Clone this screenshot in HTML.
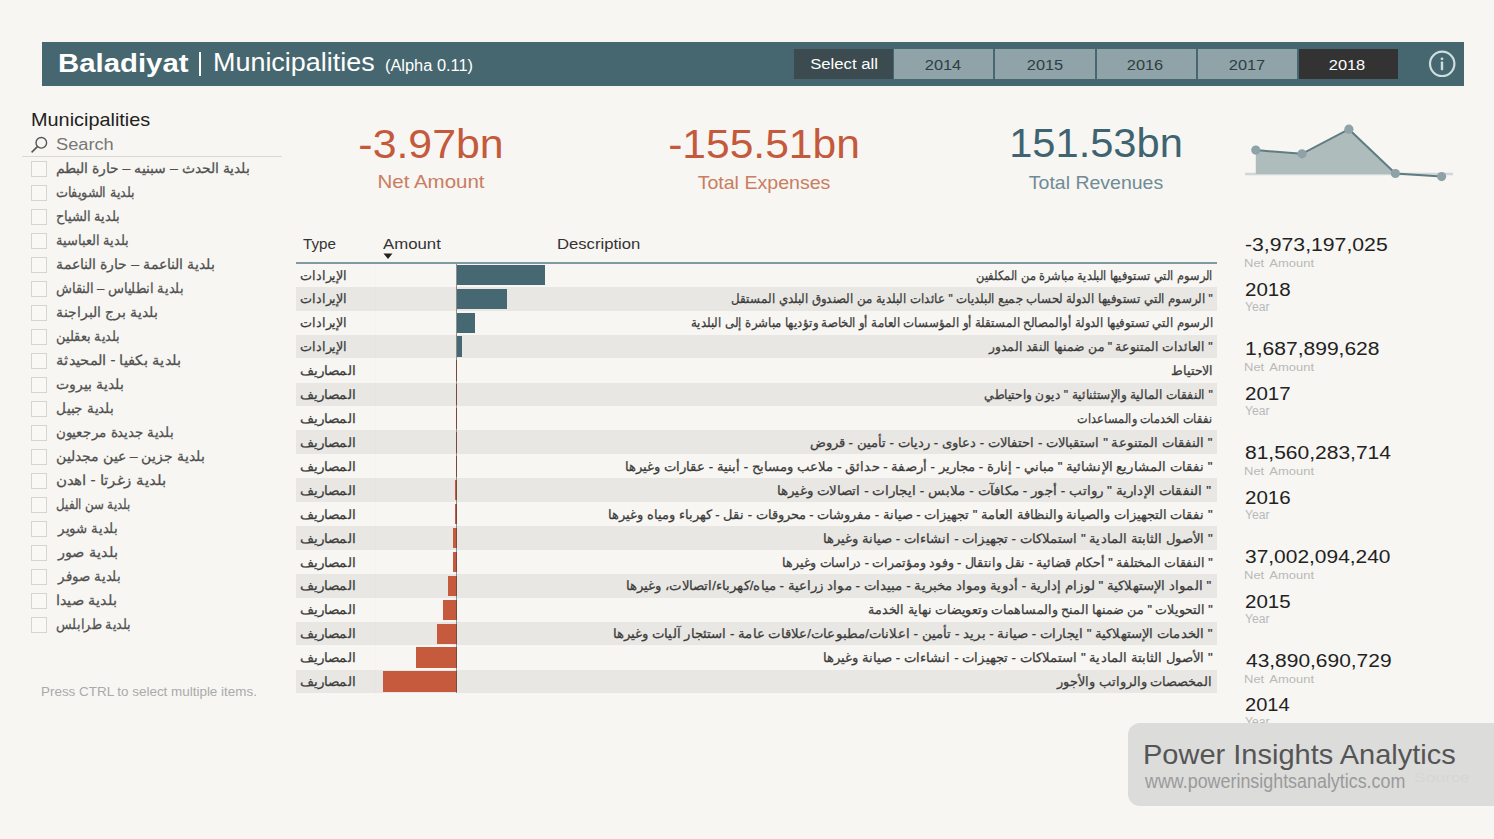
<!DOCTYPE html>
<html><head><meta charset="utf-8"><style>
html,body{margin:0;padding:0;}
body{width:1494px;height:839px;background:#f7f6f2;position:relative;overflow:hidden;font-family:"Liberation Sans",sans-serif;}
.t{position:absolute;white-space:nowrap;display:inline-block;}
.r{position:absolute;}
.cb{border:1.5px solid #d5d5d2;box-sizing:border-box;background:#f9f8f5;}
</style></head><body>
<div class="r" style="left:42px;top:42px;width:1421.5px;height:44px;background:#46676f;"></div>
<div class="t" id="h_bal" style="left:57.800000000000004px;top:49.62px;font-size:26.2px;line-height:26.2px;color:#ffffff;font-weight:bold;font-family:'Liberation Sans', sans-serif;transform:scaleX(1.1205);transform-origin:left 0;">Baladiyat</div>
<div class="r" style="left:198.6px;top:52px;width:2.7px;height:24px;background:#ffffff;"></div>
<div class="t" id="h_mun" style="left:213.0px;top:49.28px;font-size:26.6px;line-height:26.6px;color:#ffffff;font-weight:normal;font-family:'Liberation Sans', sans-serif;transform:scaleX(1.0125);transform-origin:left 0;">Municipalities</div>
<div class="t" id="h_alp" style="left:385.0px;top:58.16px;font-size:16px;line-height:16px;color:#ffffff;font-weight:normal;font-family:'Liberation Sans', sans-serif;transform:scaleX(1.0234);transform-origin:left 0;">(Alpha 0.11)</div>
<div class="r" style="left:794px;top:49px;width:99px;height:29.5px;background:#3b4b50;"></div>
<div class="t" id="b_sel" style="left:843.5px;top:56.38px;font-size:15.5px;line-height:15.5px;color:#ffffff;font-weight:normal;font-family:'Liberation Sans', sans-serif;transform:translateX(-50%) scaleX(1.0767);transform-origin:center 0;">Select all</div>
<div class="r" style="left:894px;top:49px;width:99.3px;height:29.5px;background:#8fa3a9;"></div>
<div class="t" id="b_2014" style="left:942.9000000000002px;top:56.88px;font-size:15.5px;line-height:15.5px;color:#2f3e42;font-weight:normal;font-family:'Liberation Sans', sans-serif;transform:translateX(-50%) scaleX(1.0563);transform-origin:center 0;">2014</div>
<div class="r" style="left:995.3px;top:49px;width:99.3px;height:29.5px;background:#8fa3a9;"></div>
<div class="t" id="b_2015" style="left:1044.5999999999988px;top:56.88px;font-size:15.5px;line-height:15.5px;color:#2f3e42;font-weight:normal;font-family:'Liberation Sans', sans-serif;transform:translateX(-50%) scaleX(1.0563);transform-origin:center 0;">2015</div>
<div class="r" style="left:1096.5px;top:49px;width:99.3px;height:29.5px;background:#8fa3a9;"></div>
<div class="t" id="b_2016" style="left:1145.3999999999992px;top:56.88px;font-size:15.5px;line-height:15.5px;color:#2f3e42;font-weight:normal;font-family:'Liberation Sans', sans-serif;transform:translateX(-50%) scaleX(1.0563);transform-origin:center 0;">2016</div>
<div class="r" style="left:1197.8px;top:49px;width:99.3px;height:29.5px;background:#8fa3a9;"></div>
<div class="t" id="b_2017" style="left:1247.0999999999988px;top:56.88px;font-size:15.5px;line-height:15.5px;color:#2f3e42;font-weight:normal;font-family:'Liberation Sans', sans-serif;transform:translateX(-50%) scaleX(1.0563);transform-origin:center 0;">2017</div>
<div class="r" style="left:1298.5px;top:49px;width:99.3px;height:29.5px;background:#333333;"></div>
<div class="t" id="b_2018" style="left:1347.3999999999992px;top:56.88px;font-size:15.5px;line-height:15.5px;color:#ffffff;font-weight:normal;font-family:'Liberation Sans', sans-serif;transform:translateX(-50%) scaleX(1.0563);transform-origin:center 0;">2018</div>
<svg class="r" style="left:1427px;top:49px;width:30px;height:30px" viewBox="0 0 30 30"><circle cx="15.2" cy="14.8" r="12.2" fill="none" stroke="#cfdde0" stroke-width="2.2"/><circle cx="15" cy="9.8" r="1.4" fill="#cfdde0"/><rect x="13.8" y="12.4" width="2.4" height="8.8" rx="0.8" fill="#cfdde0"/></svg>
<div class="t" id="k1" style="left:431.0px;top:123.59px;font-size:41px;line-height:41px;color:#c45a3b;font-weight:normal;font-family:'Liberation Sans', sans-serif;transform:translateX(-50%) scaleX(1.0445);transform-origin:center 0;">-3.97bn</div>
<div class="t" id="k1l" style="left:430.5px;top:171.72px;font-size:19px;line-height:19px;color:#c97d61;font-weight:normal;font-family:'Liberation Sans', sans-serif;transform:translateX(-50%) scaleX(1.0793);transform-origin:center 0;">Net Amount</div>
<div class="t" id="k2" style="left:764.0px;top:123.89px;font-size:41px;line-height:41px;color:#c45a3b;font-weight:normal;font-family:'Liberation Sans', sans-serif;transform:translateX(-50%) scaleX(1.0383);transform-origin:center 0;">-155.51bn</div>
<div class="t" id="k2l" style="left:764.0px;top:173.42px;font-size:19px;line-height:19px;color:#c97d61;font-weight:normal;font-family:'Liberation Sans', sans-serif;transform:translateX(-50%) scaleX(1.0301);transform-origin:center 0;">Total Expenses</div>
<div class="t" id="k3" style="left:1096.0px;top:123.19px;font-size:41px;line-height:41px;color:#3f6471;font-weight:normal;font-family:'Liberation Sans', sans-serif;transform:translateX(-50%) scaleX(1.0155);transform-origin:center 0;">151.53bn</div>
<div class="t" id="k3l" style="left:1096.0px;top:172.52px;font-size:19px;line-height:19px;color:#6f8b95;font-weight:normal;font-family:'Liberation Sans', sans-serif;transform:translateX(-50%) scaleX(1.0260);transform-origin:center 0;">Total Revenues</div>
<svg class="r" style="left:0;top:0;width:1494px;height:839px" viewBox="0 0 1494 839"><line x1="1245" y1="174" x2="1453" y2="174" stroke="#cfd8d8" stroke-width="2.5"/><polygon points="1255.8,174 1255.8,150.1 1302,153.8 1348.9,129.2 1395.4,173.5 1395.4,174" fill="#aebcbc"/><polyline points="1255.8,150.1 1302,153.8 1348.9,129.2 1395.4,173.5 1441.6,176.6" fill="none" stroke="#5f7c81" stroke-width="2"/><circle cx="1255.8" cy="150.1" r="4.6" fill="#8ea2a7"/><circle cx="1302" cy="153.8" r="4.6" fill="#8ea2a7"/><circle cx="1348.9" cy="129.2" r="4.6" fill="#8ea2a7"/><circle cx="1395.4" cy="173.5" r="4.6" fill="#8ea2a7"/><circle cx="1441.6" cy="176.6" r="4.6" fill="#8ea2a7"/></svg>
<div class="t" id="m_title" style="left:30.5px;top:111.34px;font-size:18.5px;line-height:18.5px;color:#222222;font-weight:normal;font-family:'Liberation Sans', sans-serif;transform:scaleX(1.0737);transform-origin:left 0;">Municipalities</div>
<svg class="r" style="left:28px;top:134px;width:24px;height:22px" viewBox="0 0 24 22"><circle cx="13.3" cy="8.8" r="5.3" fill="none" stroke="#555" stroke-width="1.4"/><line x1="9.4" y1="12.7" x2="3.6" y2="18.3" stroke="#555" stroke-width="1.6"/></svg>
<div class="t" id="m_search" style="left:56.0px;top:136.76px;font-size:16px;line-height:16px;color:#777777;font-weight:normal;font-family:'Liberation Sans', sans-serif;transform:scaleX(1.1387);transform-origin:left 0;">Search</div>
<div class="r" style="left:22px;top:156px;width:260px;height:1.3px;background:#d9d8d3;"></div>
<div class="r cb" style="left:31px;top:161.3px;width:16.3px;height:16px"></div>
<div class="t" id="mu0" dir="rtl" style="left:56.0px;top:161.35px;font-size:14px;line-height:14px;color:#505050;font-weight:normal;font-family:'Liberation Sans', sans-serif;transform:scaleX(0.9976);transform-origin:left 0;-webkit-text-stroke:0.25px #505050;">بلدية الحدث – سبنيه – حارة البطم</div>
<div class="r cb" style="left:31px;top:185.3px;width:16.3px;height:16px"></div>
<div class="t" id="mu1" dir="rtl" style="left:56.0px;top:185.35px;font-size:14px;line-height:14px;color:#505050;font-weight:normal;font-family:'Liberation Sans', sans-serif;transform:scaleX(0.9087);transform-origin:left 0;-webkit-text-stroke:0.25px #505050;">بلدية الشويفات</div>
<div class="r cb" style="left:31px;top:209.3px;width:16.3px;height:16px"></div>
<div class="t" id="mu2" dir="rtl" style="left:56.0px;top:209.35px;font-size:14px;line-height:14px;color:#505050;font-weight:normal;font-family:'Liberation Sans', sans-serif;transform:scaleX(0.9285);transform-origin:left 0;-webkit-text-stroke:0.25px #505050;">بلدية الشياح</div>
<div class="r cb" style="left:31px;top:233.3px;width:16.3px;height:16px"></div>
<div class="t" id="mu3" dir="rtl" style="left:56.0px;top:233.35px;font-size:14px;line-height:14px;color:#505050;font-weight:normal;font-family:'Liberation Sans', sans-serif;transform:scaleX(0.9248);transform-origin:left 0;-webkit-text-stroke:0.25px #505050;">بلدية العباسية</div>
<div class="r cb" style="left:31px;top:257.3px;width:16.3px;height:16px"></div>
<div class="t" id="mu4" dir="rtl" style="left:56.0px;top:257.35px;font-size:14px;line-height:14px;color:#505050;font-weight:normal;font-family:'Liberation Sans', sans-serif;transform:scaleX(1.0065);transform-origin:left 0;-webkit-text-stroke:0.25px #505050;">بلدية الناعمة – حارة الناعمة</div>
<div class="r cb" style="left:31px;top:281.3px;width:16.3px;height:16px"></div>
<div class="t" id="mu5" dir="rtl" style="left:56.0px;top:281.35px;font-size:14px;line-height:14px;color:#505050;font-weight:normal;font-family:'Liberation Sans', sans-serif;transform:scaleX(0.9345);transform-origin:left 0;-webkit-text-stroke:0.25px #505050;">بلدية انطلياس – النقاش</div>
<div class="r cb" style="left:31px;top:305.3px;width:16.3px;height:16px"></div>
<div class="t" id="mu6" dir="rtl" style="left:56.0px;top:305.35px;font-size:14px;line-height:14px;color:#505050;font-weight:normal;font-family:'Liberation Sans', sans-serif;transform:scaleX(1.0004);transform-origin:left 0;-webkit-text-stroke:0.25px #505050;">بلدية برج البراجنة</div>
<div class="r cb" style="left:31px;top:329.3px;width:16.3px;height:16px"></div>
<div class="t" id="mu7" dir="rtl" style="left:56.0px;top:329.35px;font-size:14px;line-height:14px;color:#505050;font-weight:normal;font-family:'Liberation Sans', sans-serif;transform:scaleX(0.9152);transform-origin:left 0;-webkit-text-stroke:0.25px #505050;">بلدية بعقلين</div>
<div class="r cb" style="left:31px;top:353.3px;width:16.3px;height:16px"></div>
<div class="t" id="mu8" dir="rtl" style="left:56.0px;top:353.35px;font-size:14px;line-height:14px;color:#505050;font-weight:normal;font-family:'Liberation Sans', sans-serif;transform:scaleX(1.0503);transform-origin:left 0;-webkit-text-stroke:0.25px #505050;">بلدية بكفيا - المحيدثة</div>
<div class="r cb" style="left:31px;top:377.3px;width:16.3px;height:16px"></div>
<div class="t" id="mu9" dir="rtl" style="left:56.0px;top:377.35px;font-size:14px;line-height:14px;color:#505050;font-weight:normal;font-family:'Liberation Sans', sans-serif;transform:scaleX(1.0009);transform-origin:left 0;-webkit-text-stroke:0.25px #505050;">بلدية بيروت</div>
<div class="r cb" style="left:31px;top:401.3px;width:16.3px;height:16px"></div>
<div class="t" id="mu10" dir="rtl" style="left:56.0px;top:401.35px;font-size:14px;line-height:14px;color:#505050;font-weight:normal;font-family:'Liberation Sans', sans-serif;transform:scaleX(0.9679);transform-origin:left 0;-webkit-text-stroke:0.25px #505050;">بلدية جبيل</div>
<div class="r cb" style="left:31px;top:425.3px;width:16.3px;height:16px"></div>
<div class="t" id="mu11" dir="rtl" style="left:56.0px;top:425.35px;font-size:14px;line-height:14px;color:#505050;font-weight:normal;font-family:'Liberation Sans', sans-serif;transform:scaleX(0.9596);transform-origin:left 0;-webkit-text-stroke:0.25px #505050;">بلدية جديدة مرجعيون</div>
<div class="r cb" style="left:31px;top:449.3px;width:16.3px;height:16px"></div>
<div class="t" id="mu12" dir="rtl" style="left:56.0px;top:449.35px;font-size:14px;line-height:14px;color:#505050;font-weight:normal;font-family:'Liberation Sans', sans-serif;transform:scaleX(1.0002);transform-origin:left 0;-webkit-text-stroke:0.25px #505050;">بلدية جزين – عين مجدلين</div>
<div class="r cb" style="left:31px;top:473.3px;width:16.3px;height:16px"></div>
<div class="t" id="mu13" dir="rtl" style="left:56.0px;top:473.35px;font-size:14px;line-height:14px;color:#505050;font-weight:normal;font-family:'Liberation Sans', sans-serif;transform:scaleX(1.0780);transform-origin:left 0;-webkit-text-stroke:0.25px #505050;">بلدية زغرتا - اهدن</div>
<div class="r cb" style="left:31px;top:497.3px;width:16.3px;height:16px"></div>
<div class="t" id="mu14" dir="rtl" style="left:56.0px;top:497.35px;font-size:14px;line-height:14px;color:#505050;font-weight:normal;font-family:'Liberation Sans', sans-serif;transform:scaleX(0.8432);transform-origin:left 0;-webkit-text-stroke:0.25px #505050;">بلدية سن الفيل</div>
<div class="r cb" style="left:31px;top:521.3px;width:16.3px;height:16px"></div>
<div class="t" id="mu15" dir="rtl" style="left:58.0px;top:521.35px;font-size:14px;line-height:14px;color:#505050;font-weight:normal;font-family:'Liberation Sans', sans-serif;transform:scaleX(0.9524);transform-origin:left 0;-webkit-text-stroke:0.25px #505050;">بلدية شوير</div>
<div class="r cb" style="left:31px;top:545.3px;width:16.3px;height:16px"></div>
<div class="t" id="mu16" dir="rtl" style="left:58.0px;top:545.35px;font-size:14px;line-height:14px;color:#505050;font-weight:normal;font-family:'Liberation Sans', sans-serif;transform:scaleX(1.0345);transform-origin:left 0;-webkit-text-stroke:0.25px #505050;">بلدية صور</div>
<div class="r cb" style="left:31px;top:569.3px;width:16.3px;height:16px"></div>
<div class="t" id="mu17" dir="rtl" style="left:58.0px;top:569.35px;font-size:14px;line-height:14px;color:#505050;font-weight:normal;font-family:'Liberation Sans', sans-serif;transform:scaleX(0.9545);transform-origin:left 0;-webkit-text-stroke:0.25px #505050;">بلدية صوفر</div>
<div class="r cb" style="left:31px;top:593.3px;width:16.3px;height:16px"></div>
<div class="t" id="mu18" dir="rtl" style="left:56.0px;top:593.35px;font-size:14px;line-height:14px;color:#505050;font-weight:normal;font-family:'Liberation Sans', sans-serif;transform:scaleX(1.0351);transform-origin:left 0;-webkit-text-stroke:0.25px #505050;">بلدية صيدا</div>
<div class="r cb" style="left:31px;top:617.3px;width:16.3px;height:16px"></div>
<div class="t" id="mu19" dir="rtl" style="left:56.0px;top:617.35px;font-size:14px;line-height:14px;color:#505050;font-weight:normal;font-family:'Liberation Sans', sans-serif;transform:scaleX(0.9153);transform-origin:left 0;-webkit-text-stroke:0.25px #505050;">بلدية طرابلس</div>
<div class="t" id="ctrl" style="left:41.0px;top:684.50px;font-size:13px;line-height:13px;color:#aaaaaa;font-weight:normal;font-family:'Liberation Sans', sans-serif;transform:scaleX(1.0328);transform-origin:left 0;">Press CTRL to select multiple items.</div>
<div class="t" id="th_type" style="left:302.5px;top:237.23px;font-size:14.5px;line-height:14.5px;color:#333333;font-weight:normal;font-family:'Liberation Sans', sans-serif;transform:scaleX(1.0478);transform-origin:left 0;">Type</div>
<div class="t" id="th_amt" style="left:383.2000000000001px;top:237.23px;font-size:14.5px;line-height:14.5px;color:#333333;font-weight:normal;font-family:'Liberation Sans', sans-serif;transform:scaleX(1.1569);transform-origin:left 0;">Amount</div>
<div class="t" id="th_desc" style="left:556.6999999999996px;top:237.43px;font-size:14.5px;line-height:14.5px;color:#333333;font-weight:normal;font-family:'Liberation Sans', sans-serif;transform:scaleX(1.1488);transform-origin:left 0;">Description</div>
<svg class="r" style="left:383px;top:253px;width:10px;height:7px" viewBox="0 0 10 7"><polygon points="0.5,0.5 9.5,0.5 5,6" fill="#222"/></svg>
<div class="r" style="left:296px;top:286.92px;width:920.7px;height:23.6px;background:#e8e7e3;"></div>
<div class="r" style="left:296px;top:334.76px;width:920.7px;height:23.6px;background:#e8e7e3;"></div>
<div class="r" style="left:296px;top:382.6px;width:920.7px;height:23.6px;background:#e8e7e3;"></div>
<div class="r" style="left:296px;top:430.44px;width:920.7px;height:23.6px;background:#e8e7e3;"></div>
<div class="r" style="left:296px;top:478.28px;width:920.7px;height:23.6px;background:#e8e7e3;"></div>
<div class="r" style="left:296px;top:526.12px;width:920.7px;height:23.6px;background:#e8e7e3;"></div>
<div class="r" style="left:296px;top:573.96px;width:920.7px;height:23.6px;background:#e8e7e3;"></div>
<div class="r" style="left:296px;top:621.8px;width:920.7px;height:23.6px;background:#e8e7e3;"></div>
<div class="r" style="left:296px;top:669.64px;width:920.7px;height:23.6px;background:#e8e7e3;"></div>
<div class="r" style="left:296px;top:261.6px;width:920.7px;height:2px;background:#7f9aa0;"></div>
<div class="r" style="left:375px;top:264px;width:1px;height:429px;background:rgba(0,0,0,0.012);"></div>
<div class="t" id="ty0" dir="rtl" style="left:299.5px;top:268.50px;font-size:13px;line-height:13px;color:#3c3c3c;font-weight:normal;font-family:'Liberation Sans', sans-serif;transform:scaleX(0.9826);transform-origin:left 0;-webkit-text-stroke:0.25px #3c3c3c;">الإيرادات</div>
<div class="t" id="de0" dir="rtl" style="right:281.5px;top:268.50px;font-size:13px;line-height:13px;color:#3c3c3c;font-weight:normal;font-family:'Liberation Sans', sans-serif;transform:scaleX(0.8705);transform-origin:right 0;-webkit-text-stroke:0.25px #3c3c3c;">الرسوم التي تستوفيها البلدية مباشرة من المكلفين</div>
<div class="r" style="left:456.6px;top:264.7px;width:88.2px;height:20.5px;background:#456872;"></div>
<div class="t" id="ty1" dir="rtl" style="left:299.5px;top:292.42px;font-size:13px;line-height:13px;color:#3c3c3c;font-weight:normal;font-family:'Liberation Sans', sans-serif;transform:scaleX(0.9826);transform-origin:left 0;-webkit-text-stroke:0.25px #3c3c3c;">الإيرادات</div>
<div class="t" id="de1" dir="rtl" style="right:281.5px;top:292.42px;font-size:13px;line-height:13px;color:#3c3c3c;font-weight:normal;font-family:'Liberation Sans', sans-serif;transform:scaleX(0.9078);transform-origin:right 0;-webkit-text-stroke:0.25px #3c3c3c;">" الرسوم التي تستوفيها الدولة لحساب جميع البلديات " عائدات البلدية من الصندوق البلدي المستقل</div>
<div class="r" style="left:456.6px;top:288.62px;width:50.7px;height:20.5px;background:#456872;"></div>
<div class="t" id="ty2" dir="rtl" style="left:299.5px;top:316.34px;font-size:13px;line-height:13px;color:#3c3c3c;font-weight:normal;font-family:'Liberation Sans', sans-serif;transform:scaleX(0.9826);transform-origin:left 0;-webkit-text-stroke:0.25px #3c3c3c;">الإيرادات</div>
<div class="t" id="de2" dir="rtl" style="right:280.5px;top:316.34px;font-size:13px;line-height:13px;color:#3c3c3c;font-weight:normal;font-family:'Liberation Sans', sans-serif;transform:scaleX(0.9033);transform-origin:right 0;-webkit-text-stroke:0.25px #3c3c3c;">الرسوم التي تستوفيها الدولة أوالمصالح المستقلة أو المؤسسات العامة أو الخاصة وتؤديها مباشرة إلى البلدية</div>
<div class="r" style="left:456.6px;top:312.54px;width:18.9px;height:20.5px;background:#456872;"></div>
<div class="t" id="ty3" dir="rtl" style="left:299.5px;top:340.26px;font-size:13px;line-height:13px;color:#3c3c3c;font-weight:normal;font-family:'Liberation Sans', sans-serif;transform:scaleX(0.9826);transform-origin:left 0;-webkit-text-stroke:0.25px #3c3c3c;">الإيرادات</div>
<div class="t" id="de3" dir="rtl" style="right:281.5px;top:340.26px;font-size:13px;line-height:13px;color:#3c3c3c;font-weight:normal;font-family:'Liberation Sans', sans-serif;transform:scaleX(0.9438);transform-origin:right 0;-webkit-text-stroke:0.25px #3c3c3c;">" العائدات المتنوعة " من ضمنها النقد المدور</div>
<div class="r" style="left:456.6px;top:336.46px;width:5.1px;height:20.5px;background:#456872;"></div>
<div class="t" id="ty4" dir="rtl" style="left:299.5px;top:364.18px;font-size:13px;line-height:13px;color:#3c3c3c;font-weight:normal;font-family:'Liberation Sans', sans-serif;transform:scaleX(1.0385);transform-origin:left 0;-webkit-text-stroke:0.25px #3c3c3c;">المصاريف</div>
<div class="t" id="de4" dir="rtl" style="right:281.5px;top:364.18px;font-size:13px;line-height:13px;color:#3c3c3c;font-weight:normal;font-family:'Liberation Sans', sans-serif;transform:scaleX(0.9728);transform-origin:right 0;-webkit-text-stroke:0.25px #3c3c3c;">الاحتياط</div>
<div class="r" style="left:456.0px;top:360.38px;width:0.6px;height:20.5px;background:#c65a3c;"></div>
<div class="t" id="ty5" dir="rtl" style="left:299.5px;top:388.10px;font-size:13px;line-height:13px;color:#3c3c3c;font-weight:normal;font-family:'Liberation Sans', sans-serif;transform:scaleX(1.0385);transform-origin:left 0;-webkit-text-stroke:0.25px #3c3c3c;">المصاريف</div>
<div class="t" id="de5" dir="rtl" style="right:281.5px;top:388.10px;font-size:13px;line-height:13px;color:#3c3c3c;font-weight:normal;font-family:'Liberation Sans', sans-serif;transform:scaleX(0.9336);transform-origin:right 0;-webkit-text-stroke:0.25px #3c3c3c;">" النفقات المالية والإستثنائية " ديون واحتياطي</div>
<div class="r" style="left:456.0px;top:384.3px;width:0.6px;height:20.5px;background:#c65a3c;"></div>
<div class="t" id="ty6" dir="rtl" style="left:299.5px;top:412.02px;font-size:13px;line-height:13px;color:#3c3c3c;font-weight:normal;font-family:'Liberation Sans', sans-serif;transform:scaleX(1.0385);transform-origin:left 0;-webkit-text-stroke:0.25px #3c3c3c;">المصاريف</div>
<div class="t" id="de6" dir="rtl" style="right:281.5px;top:412.02px;font-size:13px;line-height:13px;color:#3c3c3c;font-weight:normal;font-family:'Liberation Sans', sans-serif;transform:scaleX(0.8632);transform-origin:right 0;-webkit-text-stroke:0.25px #3c3c3c;">نفقات الخدمات والمساعدات</div>
<div class="r" style="left:456.0px;top:408.22px;width:0.6px;height:20.5px;background:#c65a3c;"></div>
<div class="t" id="ty7" dir="rtl" style="left:299.5px;top:435.94px;font-size:13px;line-height:13px;color:#3c3c3c;font-weight:normal;font-family:'Liberation Sans', sans-serif;transform:scaleX(1.0385);transform-origin:left 0;-webkit-text-stroke:0.25px #3c3c3c;">المصاريف</div>
<div class="t" id="de7" dir="rtl" style="right:281.5px;top:435.94px;font-size:13px;line-height:13px;color:#3c3c3c;font-weight:normal;font-family:'Liberation Sans', sans-serif;transform:scaleX(1.0112);transform-origin:right 0;-webkit-text-stroke:0.25px #3c3c3c;">" النفقات المتنوعة " استقبالات - احتفالات - دعاوى - رديات - تأمين - قروض</div>
<div class="r" style="left:456.0px;top:432.14px;width:0.6px;height:20.5px;background:#c65a3c;"></div>
<div class="t" id="ty8" dir="rtl" style="left:299.5px;top:459.86px;font-size:13px;line-height:13px;color:#3c3c3c;font-weight:normal;font-family:'Liberation Sans', sans-serif;transform:scaleX(1.0385);transform-origin:left 0;-webkit-text-stroke:0.25px #3c3c3c;">المصاريف</div>
<div class="t" id="de8" dir="rtl" style="right:281.5px;top:459.86px;font-size:13px;line-height:13px;color:#3c3c3c;font-weight:normal;font-family:'Liberation Sans', sans-serif;transform:scaleX(1.0128);transform-origin:right 0;-webkit-text-stroke:0.25px #3c3c3c;">" نفقات المشاريع الإنشائية " مباني - إنارة - مجارير - أرصفة - حدائق - ملاعب ومسابح - أبنية - عقارات وغيرها</div>
<div class="r" style="left:455.6px;top:456.06px;width:1.0px;height:20.5px;background:#c65a3c;"></div>
<div class="t" id="ty9" dir="rtl" style="left:299.5px;top:483.78px;font-size:13px;line-height:13px;color:#3c3c3c;font-weight:normal;font-family:'Liberation Sans', sans-serif;transform:scaleX(1.0385);transform-origin:left 0;-webkit-text-stroke:0.25px #3c3c3c;">المصاريف</div>
<div class="t" id="de9" dir="rtl" style="right:282.5px;top:483.78px;font-size:13px;line-height:13px;color:#3c3c3c;font-weight:normal;font-family:'Liberation Sans', sans-serif;transform:scaleX(1.0390);transform-origin:right 0;-webkit-text-stroke:0.25px #3c3c3c;">" النفقات الإدارية " رواتب - أجور - مكافآت - ملابس - ايجارات - اتصالات وغيرها</div>
<div class="r" style="left:454.5px;top:479.98px;width:2.1px;height:20.5px;background:#c65a3c;"></div>
<div class="t" id="ty10" dir="rtl" style="left:299.5px;top:507.70px;font-size:13px;line-height:13px;color:#3c3c3c;font-weight:normal;font-family:'Liberation Sans', sans-serif;transform:scaleX(1.0385);transform-origin:left 0;-webkit-text-stroke:0.25px #3c3c3c;">المصاريف</div>
<div class="t" id="de10" dir="rtl" style="right:281.5px;top:507.70px;font-size:13px;line-height:13px;color:#3c3c3c;font-weight:normal;font-family:'Liberation Sans', sans-serif;transform:scaleX(0.9992);transform-origin:right 0;-webkit-text-stroke:0.25px #3c3c3c;">" نفقات التجهيزات والصيانة والنظافة العامة " تجهيزات - صيانة - مفروشات - محروقات - نقل - كهرباء ومياه وغيرها</div>
<div class="r" style="left:454.5px;top:503.9px;width:2.1px;height:20.5px;background:#c65a3c;"></div>
<div class="t" id="ty11" dir="rtl" style="left:299.5px;top:531.62px;font-size:13px;line-height:13px;color:#3c3c3c;font-weight:normal;font-family:'Liberation Sans', sans-serif;transform:scaleX(1.0385);transform-origin:left 0;-webkit-text-stroke:0.25px #3c3c3c;">المصاريف</div>
<div class="t" id="de11" dir="rtl" style="right:281.5px;top:531.62px;font-size:13px;line-height:13px;color:#3c3c3c;font-weight:normal;font-family:'Liberation Sans', sans-serif;transform:scaleX(1.0142);transform-origin:right 0;-webkit-text-stroke:0.25px #3c3c3c;">" الأصول الثابتة المادية " استملاكات - تجهيزات - انشاءات - صيانة وغيرها</div>
<div class="r" style="left:452.7px;top:527.82px;width:3.9px;height:20.5px;background:#c65a3c;"></div>
<div class="t" id="ty12" dir="rtl" style="left:299.5px;top:555.54px;font-size:13px;line-height:13px;color:#3c3c3c;font-weight:normal;font-family:'Liberation Sans', sans-serif;transform:scaleX(1.0385);transform-origin:left 0;-webkit-text-stroke:0.25px #3c3c3c;">المصاريف</div>
<div class="t" id="de12" dir="rtl" style="right:281.5px;top:555.54px;font-size:13px;line-height:13px;color:#3c3c3c;font-weight:normal;font-family:'Liberation Sans', sans-serif;transform:scaleX(0.9678);transform-origin:right 0;-webkit-text-stroke:0.25px #3c3c3c;">" النفقات المختلفة " أحكام قضائية - نقل وانتقال - وفود ومؤتمرات - دراسات وغيرها</div>
<div class="r" style="left:452.7px;top:551.74px;width:3.9px;height:20.5px;background:#c65a3c;"></div>
<div class="t" id="ty13" dir="rtl" style="left:299.5px;top:579.46px;font-size:13px;line-height:13px;color:#3c3c3c;font-weight:normal;font-family:'Liberation Sans', sans-serif;transform:scaleX(1.0385);transform-origin:left 0;-webkit-text-stroke:0.25px #3c3c3c;">المصاريف</div>
<div class="t" id="de13" dir="rtl" style="right:282.5px;top:579.46px;font-size:13px;line-height:13px;color:#3c3c3c;font-weight:normal;font-family:'Liberation Sans', sans-serif;transform:scaleX(1.0233);transform-origin:right 0;-webkit-text-stroke:0.25px #3c3c3c;">" المواد الإستهلاكية " لوزام إدارية - أدوية ومواد مخبرية - مبيدات - مواد زراعية - مياه/كهرباء/اتصالات، وغيرها</div>
<div class="r" style="left:448.3px;top:575.66px;width:8.3px;height:20.5px;background:#c65a3c;"></div>
<div class="t" id="ty14" dir="rtl" style="left:299.5px;top:603.38px;font-size:13px;line-height:13px;color:#3c3c3c;font-weight:normal;font-family:'Liberation Sans', sans-serif;transform:scaleX(1.0385);transform-origin:left 0;-webkit-text-stroke:0.25px #3c3c3c;">المصاريف</div>
<div class="t" id="de14" dir="rtl" style="right:281.5px;top:603.38px;font-size:13px;line-height:13px;color:#3c3c3c;font-weight:normal;font-family:'Liberation Sans', sans-serif;transform:scaleX(0.9681);transform-origin:right 0;-webkit-text-stroke:0.25px #3c3c3c;">" التحويلات " من ضمنها المنح والمساهمات وتعويضات نهاية الخدمة</div>
<div class="r" style="left:442.9px;top:599.58px;width:13.7px;height:20.5px;background:#c65a3c;"></div>
<div class="t" id="ty15" dir="rtl" style="left:299.5px;top:627.30px;font-size:13px;line-height:13px;color:#3c3c3c;font-weight:normal;font-family:'Liberation Sans', sans-serif;transform:scaleX(1.0385);transform-origin:left 0;-webkit-text-stroke:0.25px #3c3c3c;">المصاريف</div>
<div class="t" id="de15" dir="rtl" style="right:281.5px;top:627.30px;font-size:13px;line-height:13px;color:#3c3c3c;font-weight:normal;font-family:'Liberation Sans', sans-serif;transform:scaleX(1.0228);transform-origin:right 0;-webkit-text-stroke:0.25px #3c3c3c;">" الخدمات الإستهلاكية " ايجارات - صيانة - بريد - تأمين - اعلانات/مطبوعات/علاقات عامة - استئجار آليات وغيرها</div>
<div class="r" style="left:436.7px;top:623.5px;width:19.9px;height:20.5px;background:#c65a3c;"></div>
<div class="t" id="ty16" dir="rtl" style="left:299.5px;top:651.22px;font-size:13px;line-height:13px;color:#3c3c3c;font-weight:normal;font-family:'Liberation Sans', sans-serif;transform:scaleX(1.0385);transform-origin:left 0;-webkit-text-stroke:0.25px #3c3c3c;">المصاريف</div>
<div class="t" id="de16" dir="rtl" style="right:281.5px;top:651.22px;font-size:13px;line-height:13px;color:#3c3c3c;font-weight:normal;font-family:'Liberation Sans', sans-serif;transform:scaleX(1.0142);transform-origin:right 0;-webkit-text-stroke:0.25px #3c3c3c;">" الأصول الثابتة المادية " استملاكات - تجهيزات - انشاءات - صيانة وغيرها</div>
<div class="r" style="left:416.1px;top:647.42px;width:40.5px;height:20.5px;background:#c65a3c;"></div>
<div class="t" id="ty17" dir="rtl" style="left:299.5px;top:675.14px;font-size:13px;line-height:13px;color:#3c3c3c;font-weight:normal;font-family:'Liberation Sans', sans-serif;transform:scaleX(1.0385);transform-origin:left 0;-webkit-text-stroke:0.25px #3c3c3c;">المصاريف</div>
<div class="t" id="de17" dir="rtl" style="right:281.5px;top:675.14px;font-size:13px;line-height:13px;color:#3c3c3c;font-weight:normal;font-family:'Liberation Sans', sans-serif;transform:scaleX(0.9968);transform-origin:right 0;-webkit-text-stroke:0.25px #3c3c3c;">المخصصات والرواتب والأجور</div>
<div class="r" style="left:382.5px;top:671.34px;width:74.1px;height:20.5px;background:#c65a3c;"></div>
<div class="r" style="left:456.1px;top:264px;width:0.9px;height:429px;background:rgba(60,60,60,0.55);"></div>
<div class="t" id="rn0" style="left:1245.1999999999996px;top:234.95px;font-size:19.2px;line-height:19.2px;color:#222222;font-weight:normal;font-family:'Liberation Sans', sans-serif;transform:scaleX(1.1052);transform-origin:left 0;">-3,973,197,025</div>
<div class="t" id="rl0" style="left:1244.3999999999992px;top:257.18px;font-size:11.6px;line-height:11.6px;color:#b9b9b9;font-weight:normal;font-family:'Liberation Sans', sans-serif;transform:scaleX(1.1203);transform-origin:left 0;word-spacing:2px;">Net Amount</div>
<div class="t" id="ry0" style="left:1245.1999999999996px;top:279.85px;font-size:19.2px;line-height:19.2px;color:#222222;font-weight:normal;font-family:'Liberation Sans', sans-serif;transform:scaleX(1.0697);transform-origin:left 0;">2018</div>
<div class="t" id="ryl0" style="left:1244.7999999999993px;top:300.84px;font-size:12px;line-height:12px;color:#b9b9b9;font-weight:normal;font-family:'Liberation Sans', sans-serif;transform:scaleX(1.0136);transform-origin:left 0;">Year</div>
<div class="t" id="rn1" style="left:1245.1999999999996px;top:338.85px;font-size:19.2px;line-height:19.2px;color:#222222;font-weight:normal;font-family:'Liberation Sans', sans-serif;transform:scaleX(1.0963);transform-origin:left 0;">1,687,899,628</div>
<div class="t" id="rl1" style="left:1244.3999999999992px;top:361.08px;font-size:11.6px;line-height:11.6px;color:#b9b9b9;font-weight:normal;font-family:'Liberation Sans', sans-serif;transform:scaleX(1.1203);transform-origin:left 0;word-spacing:2px;">Net Amount</div>
<div class="t" id="ry1" style="left:1245.1999999999996px;top:383.75px;font-size:19.2px;line-height:19.2px;color:#222222;font-weight:normal;font-family:'Liberation Sans', sans-serif;transform:scaleX(1.0697);transform-origin:left 0;">2017</div>
<div class="t" id="ryl1" style="left:1244.7999999999993px;top:404.74px;font-size:12px;line-height:12px;color:#b9b9b9;font-weight:normal;font-family:'Liberation Sans', sans-serif;transform:scaleX(1.0136);transform-origin:left 0;">Year</div>
<div class="t" id="rn2" style="left:1245.1999999999996px;top:442.75px;font-size:19.2px;line-height:19.2px;color:#222222;font-weight:normal;font-family:'Liberation Sans', sans-serif;transform:scaleX(1.0945);transform-origin:left 0;">81,560,283,714</div>
<div class="t" id="rl2" style="left:1244.3999999999992px;top:464.98px;font-size:11.6px;line-height:11.6px;color:#b9b9b9;font-weight:normal;font-family:'Liberation Sans', sans-serif;transform:scaleX(1.1203);transform-origin:left 0;word-spacing:2px;">Net Amount</div>
<div class="t" id="ry2" style="left:1245.1999999999996px;top:487.65px;font-size:19.2px;line-height:19.2px;color:#222222;font-weight:normal;font-family:'Liberation Sans', sans-serif;transform:scaleX(1.0697);transform-origin:left 0;">2016</div>
<div class="t" id="ryl2" style="left:1244.7999999999993px;top:508.64px;font-size:12px;line-height:12px;color:#b9b9b9;font-weight:normal;font-family:'Liberation Sans', sans-serif;transform:scaleX(1.0136);transform-origin:left 0;">Year</div>
<div class="t" id="rn3" style="left:1245.1999999999996px;top:546.65px;font-size:19.2px;line-height:19.2px;color:#222222;font-weight:normal;font-family:'Liberation Sans', sans-serif;transform:scaleX(1.0910);transform-origin:left 0;">37,002,094,240</div>
<div class="t" id="rl3" style="left:1244.3999999999992px;top:568.88px;font-size:11.6px;line-height:11.6px;color:#b9b9b9;font-weight:normal;font-family:'Liberation Sans', sans-serif;transform:scaleX(1.1203);transform-origin:left 0;word-spacing:2px;">Net Amount</div>
<div class="t" id="ry3" style="left:1245.1999999999996px;top:591.55px;font-size:19.2px;line-height:19.2px;color:#222222;font-weight:normal;font-family:'Liberation Sans', sans-serif;transform:scaleX(1.0697);transform-origin:left 0;">2015</div>
<div class="t" id="ryl3" style="left:1244.7999999999993px;top:612.54px;font-size:12px;line-height:12px;color:#b9b9b9;font-weight:normal;font-family:'Liberation Sans', sans-serif;transform:scaleX(1.0136);transform-origin:left 0;">Year</div>
<div class="t" id="rn4" style="left:1246.1999999999996px;top:650.55px;font-size:19.2px;line-height:19.2px;color:#222222;font-weight:normal;font-family:'Liberation Sans', sans-serif;transform:scaleX(1.0911);transform-origin:left 0;">43,890,690,729</div>
<div class="t" id="rl4" style="left:1244.3999999999992px;top:672.78px;font-size:11.6px;line-height:11.6px;color:#b9b9b9;font-weight:normal;font-family:'Liberation Sans', sans-serif;transform:scaleX(1.1203);transform-origin:left 0;word-spacing:2px;">Net Amount</div>
<div class="t" id="ry4" style="left:1245.1999999999996px;top:695.45px;font-size:19.2px;line-height:19.2px;color:#222222;font-weight:normal;font-family:'Liberation Sans', sans-serif;transform:scaleX(1.0460);transform-origin:left 0;">2014</div>
<div class="t" id="ryl4" style="left:1244.7999999999993px;top:716.44px;font-size:12px;line-height:12px;color:#b9b9b9;font-weight:normal;font-family:'Liberation Sans', sans-serif;transform:scaleX(1.0136);transform-origin:left 0;">Year</div>
<div class="r" style="left:1128px;top:722.5px;width:400px;height:83px;background:#dcdcdb;border-radius:12px"></div>
<div class="t" id="wm1" style="left:1142.5px;top:740.90px;font-size:28px;line-height:28px;color:#555555;font-weight:normal;font-family:'Liberation Sans', sans-serif;transform:scaleX(1.0361);transform-origin:left 0;">Power Insights Analytics</div>
<div class="t" id="wm2" style="left:1144.5px;top:771.69px;font-size:19.5px;line-height:19.5px;color:#9a9a9a;font-weight:normal;font-family:'Liberation Sans', sans-serif;transform:scaleX(0.9170);transform-origin:left 0;">www.powerinsightsanalytics.com</div>
<div class="t" id="wm3" style="left:1414.0px;top:771.00px;font-size:13px;line-height:13px;color:#d6d6d5;font-weight:normal;font-family:'Liberation Sans', sans-serif;transform:scaleX(1.3483);transform-origin:left 0;">Source</div>
</body></html>
